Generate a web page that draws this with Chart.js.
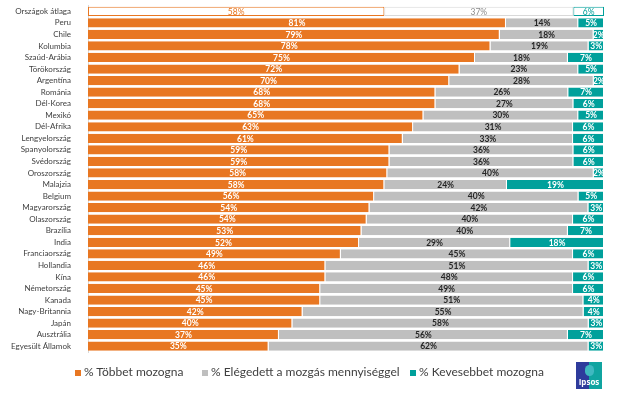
<!DOCTYPE html>
<html lang="hu">
<head>
<meta charset="UTF-8">
<title>Mozgás mennyisége országonként</title>
<script src="https://cdn.jsdelivr.net/npm/chart.js"></script>
<style>
  html, body { margin: 0; padding: 0; background: #fff; }
  #wrap { position: relative; width: 624px; height: 397px; font-family: Lato, "Open Sans", sans-serif; }
  #legend { position: absolute; top: 364px; left: 0; width: 624px; font-size: 12px; color: #404040; }
  #legend span.item { position: absolute; white-space: nowrap; }
  #legend i { display: inline-block; width: 6px; height: 6px; margin-right: 3px; vertical-align: 0; }
  #logo { position: absolute; left: 576px; top: 362px; width: 26px; height: 27px;
          background: linear-gradient(90deg, #2e3b9c 0 50%, #10a4a0 50% 100%); overflow: hidden; }
  #logo b { position: absolute; left: 0; right: 0; bottom: 2px; text-align: center; color: #fff; font: bold 8px "Open Sans", sans-serif; }
  #logo i { position: absolute; left: 9px; top: 3px; width: 9px; height: 11px; border-radius: 5px; background: #3fb8c0; }
</style>
</head>
<body>
<div id="wrap">
  <canvas id="myChart" width="624" height="397"></canvas>
  <div id="legend">
    <span class="item" style="left:75px"><i style="background:#E87722"></i>% Többet mozogna</span>
    <span class="item" style="left:202px"><i style="background:#BFBFBF"></i>% Elégedett a mozgás mennyiséggel</span>
    <span class="item" style="left:410px"><i style="background:#00A09B"></i>% Kevesebbet mozogna</span>
  </div>
  <div id="logo"><i></i><b>Ipsos</b></div>
</div>

<script>
  const orszagok = ['Országok átlaga', 'Peru', 'Chile', 'Kolumbia', 'Szaúd-Arábia', 'Törökország', 'Argentína',
    'Románia', 'Dél-Korea', 'Mexikó', 'Dél-Afrika', 'Lengyelország', 'Spanyolország', 'Svédország', 'Oroszország',
    'Malajzia', 'Belgium', 'Magyarország', 'Olaszország', 'Brazília', 'India', 'Franciaország', 'Hollandia', 'Kína',
    'Németország', 'Kanada', 'Nagy-Britannia', 'Japán', 'Ausztrália', 'Egyesült Államok'];
  const tobbet = [58, 81, 79, 78, 75, 72, 70, 68, 68, 65, 63, 61, 59, 59, 58, 58, 56, 54, 54, 53, 52, 49, 46, 46, 45, 45, 42, 40, 37, 35];
  const elegedett = [37, 14, 18, 19, 18, 23, 28, 26, 27, 30, 31, 33, 36, 36, 40, 24, 40, 42, 40, 40, 29, 45, 51, 48, 49, 51, 55, 58, 56, 62];
  const kevesebb = [6, 5, 2, 3, 7, 5, 2, 7, 6, 5, 6, 6, 6, 6, 2, 19, 5, 3, 6, 7, 18, 6, 3, 6, 6, 4, 4, 3, 7, 3];

  const szinek = ['#E87722', '#BFBFBF', '#00A09B'];
  const felirat = ['#ffffff', '#262626', '#ffffff'];
  const atlagFelirat = ['#E87722', '#8c8c8c', '#00A09B'];

  // 100%-os halmozás: minden sor összege 100-ra skálázva
  const osszeg = orszagok.map((_, i) => tobbet[i] + elegedett[i] + kevesebb[i]);
  const sorok = [tobbet, elegedett, kevesebb];

  const datasets = sorok.map((arr, k) => ({
    label: ['% Többet mozogna', '% Elégedett a mozgás mennyiséggel', '% Kevesebbet mozogna'][k],
    data: arr.map((v, i) => v / osszeg[i] * 100),
    eredeti: arr,
    backgroundColor: ctx => ctx.dataIndex === 0 ? '#ffffff' : szinek[k],
    borderColor: ctx => ctx.dataIndex === 0 ? (k === 1 ? '#d9d9d9' : szinek[k]) : '#ffffff',
    borderWidth: ctx => ctx.dataIndex === 0 ? 1 : { right: 1, left: 0, top: 0, bottom: 0 },
    borderSkipped: false,
    barPercentage: 0.8,
    categoryPercentage: 1
  }));

  const cimkek = {
    id: 'cimkek',
    afterDatasetsDraw(chart) {
      const ctx = chart.ctx;
      ctx.save();
      ctx.textAlign = 'center';
      ctx.textBaseline = 'middle';
      chart.data.datasets.forEach((ds, k) => {
        chart.getDatasetMeta(k).data.forEach((bar, i) => {
          const x = (bar.base + bar.x) / 2;
          ctx.fillStyle = i === 0 ? atlagFelirat[k] : felirat[k];
          ctx.font = (i === 0 ? '' : 'bold ') + '8.5px Lato, "Open Sans", sans-serif';
          ctx.fillText(ds.eredeti[i] + '%', x, bar.y + 0.5);
        });
      });
      ctx.restore();
    }
  };

  new Chart(document.getElementById('myChart'), {
    type: 'bar',
    data: { labels: orszagok, datasets: datasets },
    options: {
      indexAxis: 'y',
      responsive: false,
      animation: false,
      layout: { padding: { top: 5.5, bottom: 45, right: 20, left: 0 } },
      plugins: { legend: { display: false }, tooltip: { enabled: false } },
      scales: {
        x: { stacked: true, min: 0, max: 100, display: false },
        y: {
          stacked: true,
          grid: { display: false },
          border: { color: '#d9d9d9' },
          ticks: { color: '#404040', font: { size: 8, family: 'Lato, "Open Sans", sans-serif' }, padding: 9, autoSkip: false },
          afterFit: s => { s.width = 88; s.paddingTop = 0; s.paddingBottom = 0; }
        }
      }
    },
    plugins: [cimkek]
  });
</script>
</body>
</html>
